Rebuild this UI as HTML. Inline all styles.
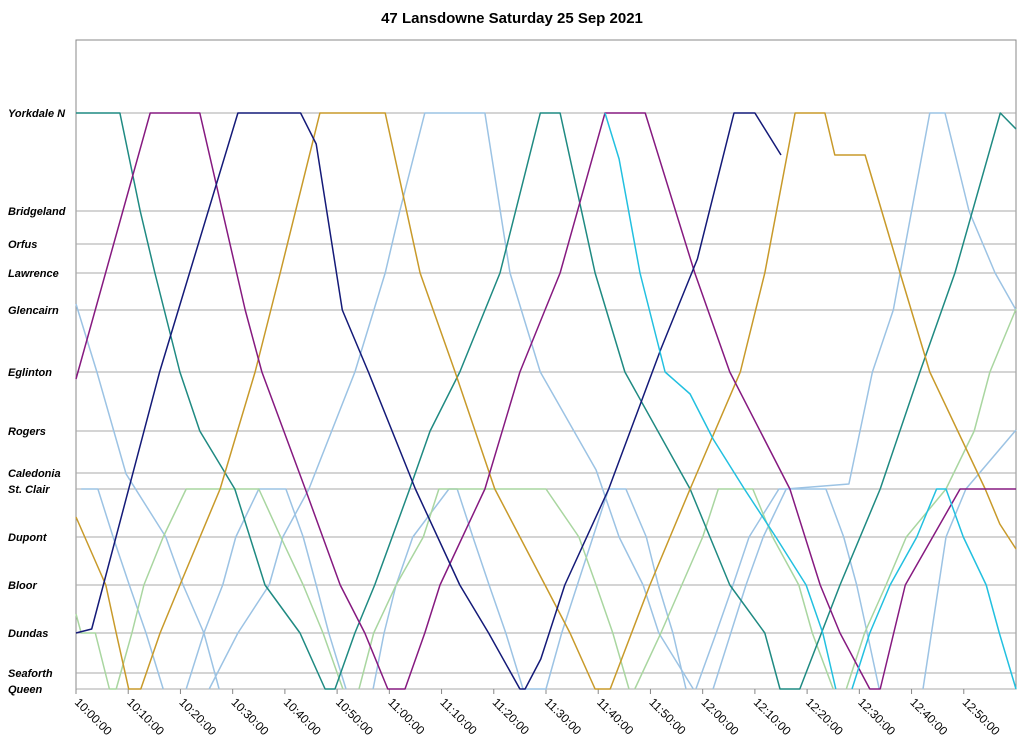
<!DOCTYPE html>
<html><head><meta charset="utf-8"><style>
body{margin:0;background:#fff;font-family:"Liberation Sans",sans-serif}
svg{display:block}
</style></head><body>
<svg id="chart" width="1024" height="749" xmlns="http://www.w3.org/2000/svg">
<text x="512" y="23" text-anchor="middle" font-size="15" font-weight="bold" font-family="Liberation Sans, sans-serif">47 Lansdowne Saturday 25 Sep 2021</text>
</svg>
<script>
const stationNames=["Yorkdale N","Bridgeland","Orfus","Lawrence","Glencairn","Eglinton","Rogers","Caledonia","St. Clair","Dupont","Bloor","Dundas","Seaforth","Queen"];
const stationKm=[11.52,9.56,8.9,8.32,7.58,6.34,5.16,4.32,4.0,3.04,2.08,1.12,0.32,0];
const tickLabels=["10:00:00","10:10:00","10:20:00","10:30:00","10:40:00","10:50:00","11:00:00","11:10:00","11:20:00","11:30:00","11:40:00","11:50:00","12:00:00","12:10:00","12:20:00","12:30:00","12:40:00","12:50:00"];
const tickMinutes=[0,10,20,30,40,50,60,70,80,90,100,110,120,130,140,150,160,170];
const navyTrip=[[0,1.12],[3,1.2],[16,6.34],[31,11.52],[43,11.52],[46,10.9],[51,7.58],[56,6.34],[65,4.0],[73.5,2.08],[79,1.12],[85,0],[86,0],[89,0.6],[93.6,2.08],[102,4.0],[112,6.8],[119,8.6],[126,11.52],[130,11.52],[135,10.68]];
const purpleTrip=[[0,6.2],[14.2,11.52],[23.7,11.52],[32.4,7.58],[35.6,6.34],[43.9,4.0],[50.6,2.08],[55.3,1.12],[59.7,0],[63,0],[66.8,1.12],[69.7,2.08],[78.3,4.0],[85,6.34],[89.8,7.58],[92.7,8.32],[101.3,11.52],[109,11.52],[118.5,8.32],[125.2,6.34],[136.7,4.0],[142.5,2.08],[146.3,1.12],[152,0],[154,0],[158.8,2.08],[169.3,4.0],[180,4.0]];
const tealTrip=[[0,11.52],[8.4,11.52],[12.3,9.56],[15.1,8.32],[19.9,6.34],[23.7,5.16],[30.4,4.0],[36.2,2.08],[42.9,1.12],[47.7,0],[49.6,0],[53.4,1.12],[57.2,2.08],[63.9,4.0],[67.8,5.16],[73.5,6.34],[81.2,8.32],[88.9,11.52],[92.7,11.52],[99.4,8.32],[105.1,6.34],[117.6,4.0],[125.2,2.08],[131.9,1.12],[134.8,0],[138.6,0],[146.3,2.08],[154,4.0],[161.6,6.34],[168.3,8.32],[177,11.52],[180,11.2]];
const goldTrip=[[0,3.44],[5.7,2.08],[7.7,1.12],[10.1,0],[12.4,0],[16.1,1.12],[19.9,2.08],[27.6,4.0],[34.3,6.34],[39.1,8.32],[46.7,11.52],[59.2,11.52],[65.9,8.32],[72.6,6.34],[80.2,4.0],[89.8,2.08],[94.6,1.12],[99.4,0],[102.3,0],[109.9,2.08],[117.6,4.0],[127.2,6.34],[131.9,8.32],[137.7,11.52],[143.4,11.52],[145.3,10.68],[151.1,10.68],[157.8,8.32],[163.5,6.34],[174.1,4.0],[176.9,3.3],[180,2.8]];
const lightBlueTrips=[
 [[0,7.7],[4,6.34],[9.6,4.3],[17.2,3.04],[20.5,2.08],[24.5,1.12],[27.4,0]],
 [[1,4.0],[4.2,4.0],[7.1,3.04],[10.2,2.08],[13.4,1.12],[16.7,0]],
 [[21.1,0],[24.5,1.12],[28.1,2.08],[30.6,3.04],[35,4.0],[40.2,4.0],[43.5,3.04],[46,2.08],[48.4,1.12],[51.7,0]],
 [[25.5,0],[31,1.12],[37,2.08],[39.6,3.04],[44.6,4.0],[53.4,6.34],[59.2,8.32],[62,9.56],[66.8,11.52],[78.3,11.52],[83.1,8.32],[88.9,6.34],[99.6,4.38],[104,3.04],[108.6,2.08],[111.6,1.12],[118.2,0]],
 [[56.9,0],[59,1.12],[61.3,2.08],[64.5,3.04],[71.4,4.0],[73,4.0],[76,3.04],[79.1,2.08],[82.3,1.12],[85.6,0],[90,0],[93,1.12],[96,2.08],[99,3.04],[102,4.0],[105.3,4.0],[109.2,3.04],[111.5,2.08],[114.3,1.12],[116.8,0]],
 [[118.7,0],[122.6,1.12],[125.8,2.08],[128.9,3.04],[134.6,4.0],[143.6,4.0],[147,3.04],[149.5,2.08],[151.5,1.12],[153.8,0]],
 [[122,0],[128.3,2.08],[131.6,3.04],[136,4.0],[148,4.1],[152.5,6.34],[156.5,7.58],[160,9.56],[163.5,11.52],[166.4,11.52],[171,9.56],[176,8.32],[180,7.58]],
 [[162.2,0],[166.6,3.04],[170.4,4.0],[180,5.18]]];
const greenTrips=[
 [[0,1.5],[1,1.12],[3.7,1.12],[6.4,0],[7.7,0],[10.7,1.12],[13,2.08],[16.7,3.04],[21.1,4.0],[35,4.0],[39.2,3.04],[43.5,2.08],[47.3,1.12],[51.1,0]],
 [[54.2,0],[57,1.12],[61.3,2.08],[66.5,3.04],[69.5,4.0],[90,4.0],[96.3,3.04],[99.6,2.08],[102.8,1.12],[105.9,0]],
 [[107,0],[112,1.12],[116,2.08],[120,3.04],[123,4.0],[129.6,4.0],[133.4,3.04],[138.4,2.08],[141,1.12],[145,0]],
 [[147.5,0],[151,1.12],[155.1,2.08],[159,3.04],[166.6,4.0],[172,5.16],[175,6.34],[180,7.6]]];
const cyanTrips=[
 [[101.3,11.52],[104,10.6],[108,8.32],[112.8,6.34],[117.6,5.9],[122,5.0],[128,4.0],[134,3.04],[139.8,2.08],[143,1.12],[145.5,0]],
 [[148.6,0],[152,1.12],[155.9,2.08],[161,3.04],[164.8,4.0],[166.6,4.0],[169.9,3.04],[174.3,2.08],[176.8,1.12],[180,0]]];

const NS="http://www.w3.org/2000/svg";
const svg=document.getElementById('chart');
const X0=76,X1=1016,Y0=113,Y1=689;
const xs=m=>X0+(X1-X0)*m/180;
const ys=k=>Y1-(Y1-Y0)*k/11.52;
function mk(tag,attrs){const e=document.createElementNS(NS,tag);for(const k in attrs)e.setAttribute(k,attrs[k]);svg.appendChild(e);return e;}
const frame=mk('rect',{x:X0,y:40,width:X1-X0,height:Y1-40,fill:'none',stroke:'#888','stroke-width':1});


stationNames.forEach((n,i)=>{
 const y=ys(stationKm[i]);
 const g=mk('line',{x1:X0,x2:X1,y1:y,y2:y,stroke:'#aaa','stroke-width':1});
 
 
 const t=mk('text',{x:8,y:y+4,'font-size':11,'font-weight':'bold','font-style':'italic'});
 t.textContent=n;
 
 
});
tickMinutes.forEach((m,i)=>{
 const x=xs(m);
 const tk=mk('line',{x1:x,x2:x,y1:Y1,y2:Y1+5,stroke:'#888'});
 
 
 const t=mk('text',{x:x-2,y:Y1+14,'font-size':12,transform:`rotate(45 ${x-2} ${Y1+14})`});
 t.textContent=tickLabels[i];
 
 
});
function drawTrip(pts,color,name){
 const d=pts.map((p,i)=>(i?'L':'M')+xs(p[0]).toFixed(1)+' '+ys(p[1]).toFixed(1)).join(' ');
 const p=mk('path',{d:d,fill:'none',stroke:color,'stroke-width':1.5,'stroke-linejoin':'round'});
 
 
}
lightBlueTrips.forEach(t=>drawTrip(t,'#9cc3e4','trip-light-blue'));
greenTrips.forEach(t=>drawTrip(t,'#a9d6a0','trip-light-green'));
drawTrip(tealTrip,'#1f8a82','trip-teal');
drawTrip(goldTrip,'#c89a2a','trip-gold');
drawTrip(purpleTrip,'#861a80','trip-purple');
drawTrip(navyTrip,'#141a78','trip-navy');
cyanTrips.forEach(t=>drawTrip(t,'#22c0e0','trip-cyan'));
</script>
</body></html>
